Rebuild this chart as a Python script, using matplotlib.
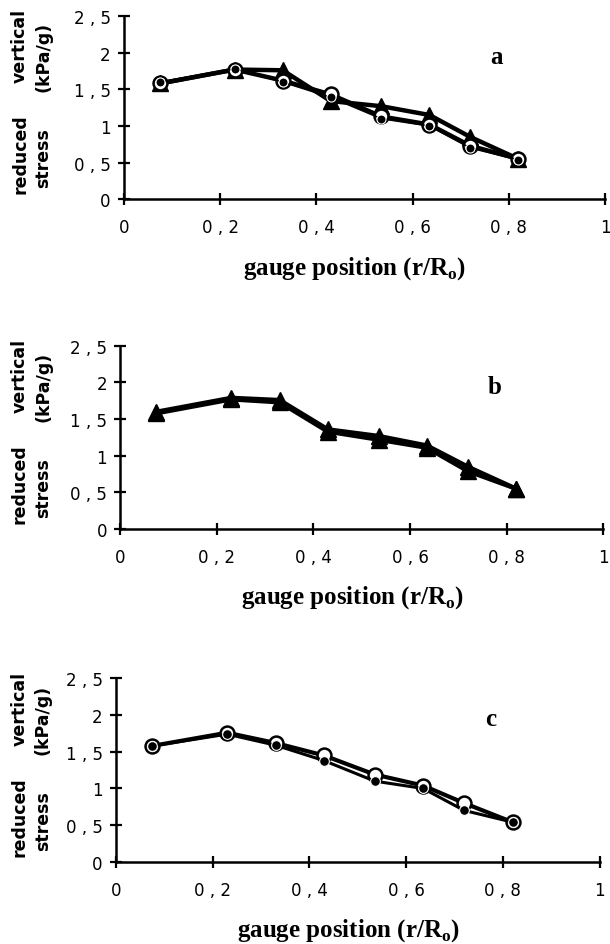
import matplotlib.pyplot as plt
from matplotlib.ticker import FuncFormatter

# gauge positions (r/Ro)
pos = [0.075, 0.23, 0.33, 0.43, 0.535, 0.635, 0.72, 0.82]

# panel a
a_tri = [1.58, 1.77, 1.76, 1.34, 1.27, 1.15, 0.85, 0.55]
a_open = [1.58, 1.77, 1.62, 1.43, 1.13, 1.02, 0.73, 0.55]
a_dot = [1.60, 1.78, 1.60, 1.39, 1.10, 1.00, 0.70, 0.54]

# panel b
b_tri1 = [1.60, 1.79, 1.76, 1.36, 1.27, 1.14, 0.85, 0.55]
b_tri2 = [1.58, 1.77, 1.73, 1.33, 1.22, 1.11, 0.79, 0.55]

# panel c
c_open = [1.58, 1.76, 1.62, 1.45, 1.19, 1.04, 0.80, 0.54]
c_dot = [1.58, 1.74, 1.59, 1.38, 1.10, 1.00, 0.70, 0.54]

xticks = [0, 0.2, 0.4, 0.6, 0.8, 1]
yticks = [0, 0.5, 1, 1.5, 2, 2.5]

# old typewriter-ish spacing: "0 , 2"
comma = FuncFormatter(lambda v, p: ('%g' % v).replace('.', ' , '))

fig = plt.figure(figsize=(6.1, 9.45), dpi=100)

boxes = [[0.203, 0.788, 0.789, 0.194],
         [0.197, 0.439, 0.792, 0.194],
         [0.190, 0.087, 0.793, 0.194]]
letters = ['a', 'b', 'c']

axes = []
for box, let in zip(boxes, letters):
    ax = fig.add_axes(box)
    ax.set_xlim(0, 1)
    ax.set_ylim(0, 2.5)
    ax.set_xticks(xticks)
    ax.set_yticks(yticks)
    ax.xaxis.set_major_formatter(comma)
    ax.yaxis.set_major_formatter(comma)
    for s in ['top', 'right']:
        ax.spines[s].set_visible(False)
    for s in ['left', 'bottom']:
        ax.spines[s].set_linewidth(1.8)
    ax.tick_params(direction='inout', length=9, width=1.6, labelsize=12, pad=5)
    ax.tick_params(axis='x', pad=9)
    for lab in ax.get_xticklabels() + ax.get_yticklabels():
        lab.set_family('DejaVu Sans')
    ax.text(0.775, 0.78, let, transform=ax.transAxes, family='Liberation Serif',
            fontweight='bold', fontsize=18, ha='center', va='center')
    axes.append(ax)

    # y label, four words on two rotated lines
    x0 = (20 / 610 - box[0]) / box[2]
    x1 = (43 / 610 - box[0]) / box[2]
    kw = dict(transform=ax.transAxes, rotation=90, fontweight='bold', fontsize=12.5,
              family='DejaVu Sans', ha='center', va='center')
    ax.text(x0, 0.25, 'reduced', **kw)
    ax.text(x0, 0.84, 'vertical', **kw)
    ax.text(x1, 0.23, 'stress', **kw)
    ax.text(x1, 0.78, '(kPa/g)', **kw)

    # x label
    ax.text(0.48, -0.37, 'gauge position (r/R$_\\mathregular{o}$)', transform=ax.transAxes,
            family='Liberation Serif', fontweight='bold', fontsize=18, ha='center', va='center')

ax_a, ax_b, ax_c = axes

ax_a.plot(pos, a_tri, color='black', lw=3.2, marker='^', ms=11, clip_on=False, zorder=3)
ax_a.plot(pos, a_open, color='black', lw=3.2, marker='o', ms=10, mfc='white', mec='black', mew=1.8,
          clip_on=False, zorder=4)
ax_a.plot(pos, a_dot, color='black', lw=1.2, marker='o', ms=6.5, mfc='black', mec='white', mew=0.8,
          clip_on=False, zorder=5)

ax_b.plot(pos, b_tri1, color='black', lw=3.2, marker='^', ms=12, clip_on=False, zorder=3)
ax_b.plot(pos, b_tri2, color='black', lw=3.2, marker='^', ms=12, clip_on=False, zorder=3)

ax_c.plot(pos, c_open, color='black', lw=3.0, marker='o', ms=10, mfc='white', mec='black', mew=1.8,
          clip_on=False, zorder=4)
ax_c.plot(pos, c_dot, color='black', lw=2.2, marker='o', ms=7, mfc='black', mec='white', mew=0.8,
          clip_on=False, zorder=5)

fig.savefig('out.png', dpi=100)
